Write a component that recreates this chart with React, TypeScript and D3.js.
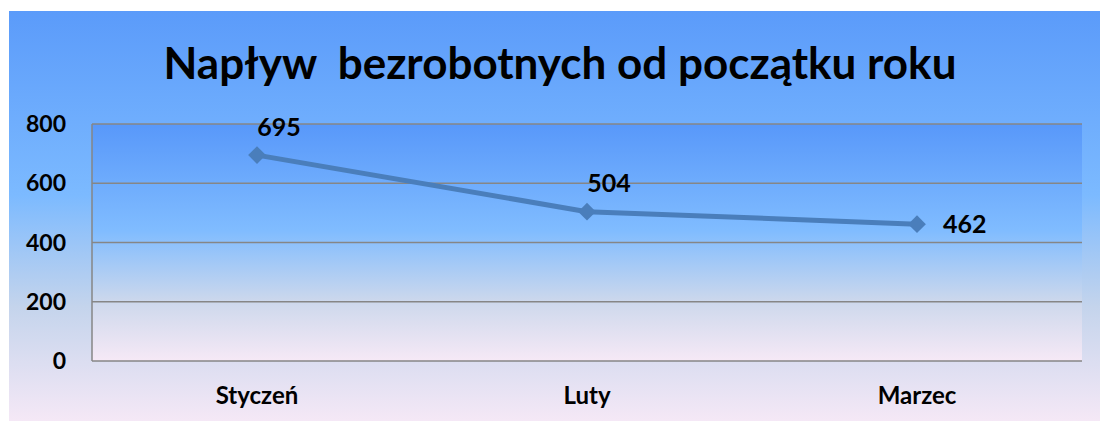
import { useEffect, useRef } from "react";
import * as d3 from "d3";

// chart data
const months = ["Styczeń", "Luty", "Marzec"];
const inflow = [695, 504, 462];
const yTicks = [0, 200, 400, 600, 800];
const title = "Napływ  bezrobotnych od początku roku";

const W = 1104;
const H = 421;

export default function App() {
  const svgRef = useRef<SVGSVGElement | null>(null);

  useEffect(() => {
    const svg = d3.select(svgRef.current);
    svg.selectAll("*").remove();

    const font = "Lato, 'Open Sans', sans-serif";
    const margin = { top: 124, right: 22, bottom: 60, left: 92 };
    const innerW = W - margin.left - margin.right;
    const innerH = H - margin.top - margin.bottom;

    const defs = svg.append("defs");
    const mkGrad = (id: string, stops: [number, string][]) => {
      const g = defs
        .append("linearGradient")
        .attr("id", id)
        .attr("x1", 0)
        .attr("y1", 0)
        .attr("x2", 0)
        .attr("y2", 1);
      stops.forEach(([o, c]) => g.append("stop").attr("offset", o).attr("stop-color", c));
    };
    mkGrad("outerBg", [
      [0, "#5b9bfa"],
      [0.45, "#7cbaff"],
      [0.72, "#c4d4ec"],
      [1, "#f5e8f6"],
    ]);
    mkGrad("plotBg", [
      [0, "#5898fa"],
      [0.45, "#80bcff"],
      [0.75, "#cdd8ec"],
      [1, "#f6e9f6"],
    ]);

    // outer chart area
    svg
      .append("rect")
      .attr("x", 9)
      .attr("y", 11)
      .attr("width", 1091)
      .attr("height", H - 11)
      .attr("fill", "url(#outerBg)");

    svg
      .append("text")
      .attr("x", 560)
      .attr("y", 79)
      .attr("text-anchor", "middle")
      .style("font-family", font)
      .style("font-weight", "bold")
      .style("font-size", "44px")
      .style("white-space", "pre")
      .attr("fill", "black")
      .text(title);

    const g = svg.append("g").attr("transform", `translate(${margin.left},${margin.top})`);

    const x = d3.scalePoint<string>().domain(months).range([0, innerW]).padding(0.5);
    const y = d3.scaleLinear().domain([0, 800]).range([innerH, 0]);

    g.append("rect").attr("width", innerW).attr("height", innerH).attr("fill", "url(#plotBg)");

    // gridlines
    g.selectAll(".grid")
      .data(yTicks)
      .enter()
      .append("line")
      .attr("x1", 0)
      .attr("x2", innerW)
      .attr("y1", d => y(d))
      .attr("y2", d => y(d))
      .attr("stroke", "#868686")
      .attr("stroke-width", 1.5);

    g.append("line")
      .attr("x1", 0)
      .attr("x2", 0)
      .attr("y1", 0)
      .attr("y2", innerH)
      .attr("stroke", "#868686")
      .attr("stroke-width", 1.5);

    // y labels
    g.selectAll(".ylab")
      .data(yTicks)
      .enter()
      .append("text")
      .attr("x", -26)
      .attr("y", d => y(d))
      .attr("dy", "0.35em")
      .attr("text-anchor", "end")
      .style("font-family", font)
      .style("font-weight", "bold")
      .style("font-size", "23px")
      .text(d => d);

    // x labels
    g.selectAll(".xlab")
      .data(months)
      .enter()
      .append("text")
      .attr("x", d => x(d) as number)
      .attr("y", innerH + 35)
      .attr("dy", "0.35em")
      .attr("text-anchor", "middle")
      .style("font-family", font)
      .style("font-weight", "bold")
      .style("font-size", "24px")
      .text(d => d);

    const pts = months.map((m, i) => ({ m, v: inflow[i] }));

    const line = d3
      .line<{ m: string; v: number }>()
      .x(d => x(d.m) as number)
      .y(d => y(d.v));

    g.append("path")
      .datum(pts)
      .attr("d", line)
      .attr("fill", "none")
      .attr("stroke", "#4a7ebb")
      .attr("stroke-width", 5)
      .attr("stroke-linejoin", "round")
      .attr("stroke-linecap", "round");

    g.selectAll(".marker")
      .data(pts)
      .enter()
      .append("path")
      .attr("d", d3.symbol(d3.symbolDiamond2, 200)())
      .attr("transform", d => `translate(${x(d.m)},${y(d.v)})`)
      .attr("fill", "#4a7ebb");

    // value labels
    g.selectAll(".vlab")
      .data(pts)
      .enter()
      .append("text")
      .attr("x", (d, i) => (x(d.m) as number) + (i === 2 ? 26 : 22))
      .attr("y", (d, i) => y(d.v) - (i === 2 ? 0 : 28))
      .attr("dy", "0.35em")
      .attr("text-anchor", (d, i) => (i === 2 ? "start" : "middle"))
      .style("font-family", font)
      .style("font-weight", "bold")
      .style("font-size", "25px")
      .text(d => d.v);
  }, []);

  return (
    <svg
      ref={svgRef}
      width={W}
      height={H}
      style={{ position: "absolute", left: 0, top: 0, background: "white" }}
    />
  );
}
